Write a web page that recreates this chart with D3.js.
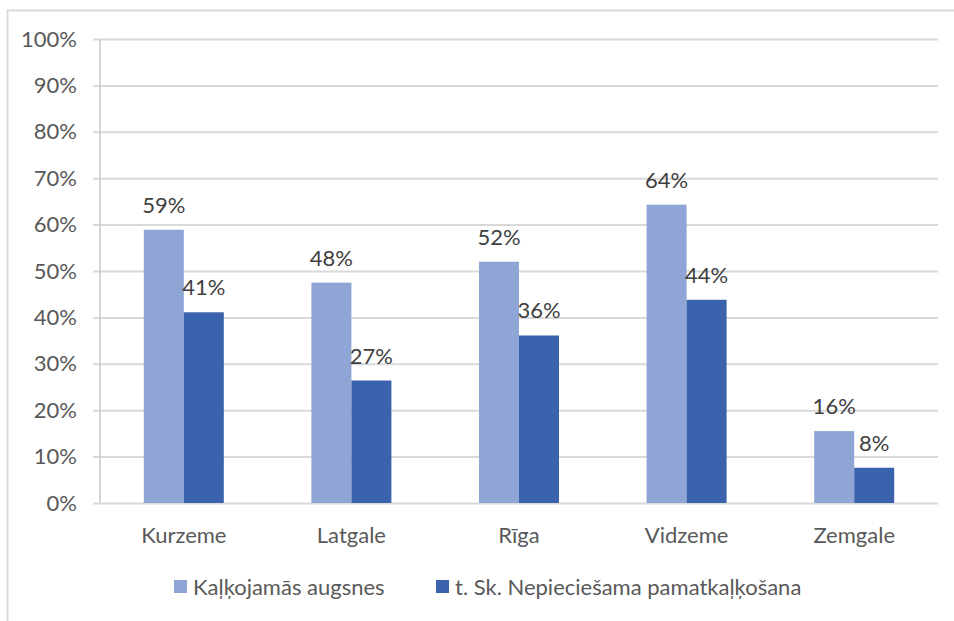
<!DOCTYPE html>
<html>
<head>
<meta charset="utf-8">
<script src="https://cdn.jsdelivr.net/npm/d3@7"></script>
<style>
  body { margin: 0; background: #fff; }
  text { font-family: Lato, sans-serif; fill: #595959; }
</style>
</head>
<body>
<div class="chart"></div>
<script>
const regions = ["Kurzeme", "Latgale", "Rīga", "Vidzeme", "Zemgale"]
const seriesNames = ["Kaļķojamās augsnes", "t. Sk. Nepieciešama pamatkaļķošana"]
const limable = [0.589, 0.475, 0.520, 0.643, 0.155]
const basicLiming = [0.411, 0.264, 0.361, 0.438, 0.076]
const labelsLimable = ["59%", "48%", "52%", "64%", "16%"]
const labelsBasic = ["41%", "27%", "36%", "44%", "8%"]
const yTicks = [0, 0.1, 0.2, 0.3, 0.4, 0.5, 0.6, 0.7, 0.8, 0.9, 1]

const colors = {
  light: "#8EA5D5",
  dark: "#3B63AD",
  grid: "#D9D9D9",
  axis: "#C8C8C8",
  border: "#D9D9D9"
}

const fontSize = 22

const dims = {
  width: 954,
  height: 621,
  margin: { top: 39, right: 16, bottom: 118, left: 100 }
}
dims.boundedWidth = dims.width - dims.margin.left - dims.margin.right
dims.boundedHeight = dims.height - dims.margin.top - dims.margin.bottom

const data = regions.map((r, i) => ({
  region: r,
  values: [
    { key: 0, v: limable[i], label: labelsLimable[i] },
    { key: 1, v: basicLiming[i], label: labelsBasic[i] }
  ]
}))

const xScale = d3.scaleBand()
  .domain(regions)
  .range([0, dims.boundedWidth])

const xInner = d3.scaleBand()
  .domain([0, 1])
  .range([xScale.bandwidth() / 2 - 40, xScale.bandwidth() / 2 + 40])

const yScale = d3.scaleLinear()
  .domain([0, 1])
  .range([dims.boundedHeight, 0])

const colorScale = d3.scaleOrdinal()
  .domain([0, 1])
  .range([colors.light, colors.dark])

const svg = d3.select(".chart").append("svg")
    .attr("width", dims.width)
    .attr("height", dims.height)

// chart frame (only top and left edges visible)
svg.append("path")
    .attr("d", `M7.5,${dims.height} V10.5 H${dims.width}`)
    .attr("fill", "none")
    .attr("stroke", colors.border)
    .attr("stroke-width", 2)

const bounds = svg.append("g")
    .attr("transform", `translate(${dims.margin.left},${dims.margin.top})`)

// gridlines + y labels
const yAxisGenerator = d3.axisLeft(yScale)
  .tickValues(yTicks)
  .tickFormat(d3.format(".0%"))
  .tickSize(-dims.boundedWidth)
  .tickPadding(23)

bounds.append("g")
    .call(yAxisGenerator)
    .call(g => g.select(".domain").remove())
    .call(g => g.selectAll(".tick line")
      .attr("x1", -7)
      .attr("stroke", colors.grid)
      .attr("stroke-width", 2))
    .call(g => g.selectAll(".tick text")
      .attr("font-size", fontSize)
      .attr("fill", "#595959")
      .attr("font-family", "Lato, sans-serif"))

// vertical axis line
bounds.append("line")
    .attr("x1", 0).attr("x2", 0)
    .attr("y1", 0).attr("y2", dims.boundedHeight)
    .attr("stroke", colors.axis)
    .attr("stroke-width", 1.5)

// x labels
bounds.append("g")
    .attr("transform", `translate(0,${dims.boundedHeight})`)
    .call(d3.axisBottom(xScale).tickSize(0).tickPadding(24))
    .call(g => g.select(".domain").remove())
    .call(g => g.selectAll(".tick text")
      .attr("font-size", fontSize)
      .attr("fill", "#595959")
      .attr("font-family", "Lato, sans-serif"))

const groups = bounds.selectAll(".group")
  .data(data)
  .join("g")
    .attr("class", "group")
    .attr("transform", d => `translate(${xScale(d.region)},0)`)

groups.selectAll("rect")
  .data(d => d.values)
  .join("rect")
    .attr("x", d => xInner(d.key))
    .attr("width", xInner.bandwidth())
    .attr("y", d => yScale(d.v))
    .attr("height", d => dims.boundedHeight - yScale(d.v))
    .attr("fill", d => colorScale(d.key))

groups.selectAll(".value")
  .data(d => d.values)
  .join("text")
    .attr("class", "value")
    .attr("x", d => xInner(d.key) + xInner.bandwidth() / 2)
    .attr("y", d => yScale(d.v) - 17)
    .attr("text-anchor", "middle")
    .attr("font-size", fontSize)
    .style("fill", "#404040")
    .text(d => d.label)

// legend
const legend = svg.append("g")
    .attr("transform", "translate(174,580)")

const legendX = [0, 262]
const legendItems = legend.selectAll(".item")
  .data(seriesNames)
  .join("g")
    .attr("class", "item")
    .attr("transform", (d, i) => `translate(${legendX[i]},0)`)

legendItems.append("rect")
    .attr("width", 13)
    .attr("height", 13)
    .attr("fill", (d, i) => colorScale(i))

legendItems.append("text")
    .attr("x", 19)
    .attr("y", 15)
    .attr("font-size", fontSize)
    .text(d => d)
</script>
</body>
</html>
